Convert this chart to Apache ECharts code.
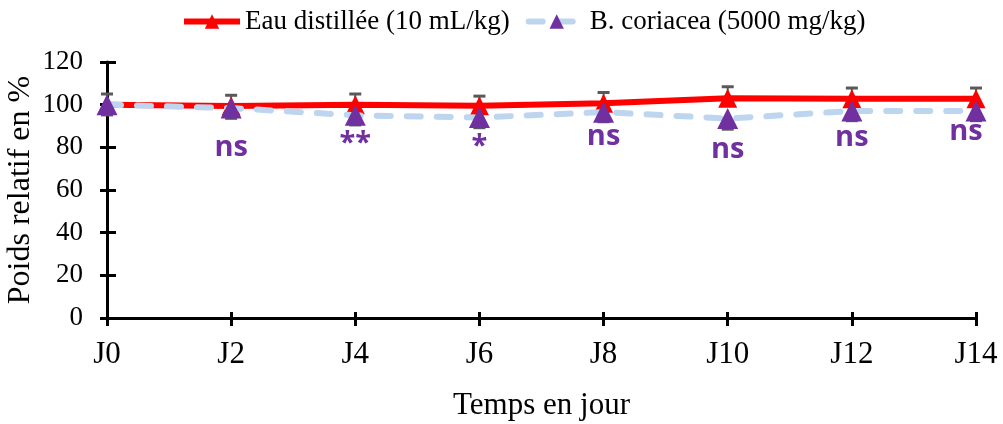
<!DOCTYPE html>
<html>
<head>
<meta charset="utf-8">
<script src="https://cdn.jsdelivr.net/npm/echarts@6/dist/echarts.min.js"></script>
<style>html,body{margin:0;padding:0;background:#fff;}#c{width:1003px;height:424px;}</style>
</head>
<body>
<div id="c"></div>
<script>
const categories = ['J0', 'J2', 'J4', 'J6', 'J8', 'J10', 'J12', 'J14'];
const eauValues = [100, 99.4, 100, 99.5, 100.7, 103, 102.8, 102.8];
const eauErr = [5, 5, 5, 4.5, 5, 5.4, 5, 5];
const bcValues = [100, 98.4, 95, 94, 96.5, 93.5, 97, 97];
const bcErr = [4.8, 4.8, 4.5, 4.8, 4.5, 5, 4.5, 4.5];
const sigLabels = ['', 'ns', '**', '*', 'ns', 'ns', 'ns', 'ns'];
const sigY = [null, 80, 81.5, 80.5, 85, 79, 84.5, 87.5];

const serif = '"Liberation Serif", "Times New Roman", serif';
const chart = echarts.init(document.getElementById('c'));

function errBar(values, errs, dir) {
  return {
    type: 'custom',
    z: 1,
    silent: true,
    data: values.map((v, i) => [i, v, v + dir * errs[i]]),
    renderItem: function (params, api) {
      const p0 = api.coord([api.value(0), api.value(1)]);
      const p1 = api.coord([api.value(0), api.value(2)]);
      const hw = 6;
      return {
        type: 'group',
        children: [
          { type: 'line', shape: { x1: p0[0], y1: p0[1], x2: p1[0], y2: p1[1] }, style: { stroke: '#595959', lineWidth: 2 } },
          { type: 'line', shape: { x1: p1[0] - hw, y1: p1[1], x2: p1[0] + hw, y2: p1[1] }, style: { stroke: '#595959', lineWidth: 3 } }
        ]
      };
    }
  };
}

const axisLine = { show: true, lineStyle: { color: '#000', width: 3 } };
const tickStyle = { color: '#000', width: 3 };

chart.setOption({
  animation: false,
  legend: {
    top: 3,
    left: 176,
    itemWidth: 56,
    itemHeight: 18,
    itemGap: 16,
    textStyle: { fontFamily: serif, fontSize: 27, color: '#000' },
    data: [
      { name: 'Eau distillée (10 mL/kg)', lineStyle: { width: 6 } },
      { name: 'B. coriacea (5000 mg/kg)', lineStyle: { width: 6 } }
    ]
  },
  grid: { left: 107, right: 27, top: 62, bottom: 106, containLabel: false, outerBoundsMode: 'none' },
  xAxis: [
    {
      type: 'category',
      data: categories,
      boundaryGap: false,
      axisLine: axisLine,
      axisTick: { show: true, length: 8, lineStyle: tickStyle },
      axisLabel: { fontFamily: serif, fontSize: 31, color: '#000', margin: 21 },
      name: 'Temps en jour',
      nameLocation: 'middle',
      nameGap: 72,
      nameMoveOverlap: false,
      nameTextStyle: { fontFamily: serif, fontSize: 31, color: '#000' },
      splitLine: { show: false }
    },
    {
      type: 'category',
      data: categories,
      boundaryGap: false,
      position: 'bottom',
      axisLine: { show: false },
      axisTick: { show: true, inside: true, length: 6, lineStyle: tickStyle },
      axisLabel: { show: false },
      splitLine: { show: false }
    }
  ],
  yAxis: [
    {
      type: 'value',
      min: 0, max: 120, interval: 20,
      axisLine: axisLine,
      axisTick: { show: true, length: 7, lineStyle: tickStyle },
      axisLabel: { fontFamily: serif, fontSize: 27, color: '#000', margin: 24 },
      splitLine: { show: false },
      name: 'Poids relatif en %',
      nameLocation: 'middle',
      nameRotate: 90,
      nameGap: 70,
      nameMoveOverlap: false,
      nameTextStyle: { fontFamily: serif, fontSize: 32, color: '#000' }
    },
    {
      type: 'value',
      min: 0, max: 120, interval: 20,
      position: 'left',
      axisLine: { show: false },
      axisTick: { show: true, inside: true, length: 9, lineStyle: tickStyle },
      axisLabel: { show: false },
      splitLine: { show: false }
    }
  ],
  series: [
    errBar(eauValues, eauErr, 1),
    errBar(bcValues, bcErr, -1),
    {
      name: 'Eau distillée (10 mL/kg)',
      type: 'line',
      z: 3,
      data: eauValues,
      symbol: 'triangle',
      symbolSize: 19,
      lineStyle: { color: '#FF0000', width: 6 },
      itemStyle: { color: '#FF0000' }
    },
    {
      name: 'B. coriacea (5000 mg/kg)',
      type: 'line',
      z: 4,
      data: bcValues,
      symbol: 'triangle',
      symbolSize: 21,
      lineStyle: { color: '#BDD5EE', width: 6, type: [14, 16], cap: 'round' },
      itemStyle: { color: '#7030A0' }
    },
    {
      type: 'scatter',
      z: 5,
      silent: true,
      symbolSize: 0,
      itemStyle: { opacity: 1 },
      data: sigY.map((y, i) => ({
        value: [i, y],
        label: { offset: i === categories.length - 1 ? [-10, 0] : [0, 0] }
      })).filter((d) => d.value[1] !== null),
      label: {
        show: true,
        position: 'inside',
        formatter: (p) => sigLabels[p.value[0]],
        fontFamily: '"Open Sans", sans-serif',
        fontWeight: 700,
        fontSize: 29,
        color: '#7030A0',
        opacity: 1
      }
    }
  ]
});
</script>
</body>
</html>
